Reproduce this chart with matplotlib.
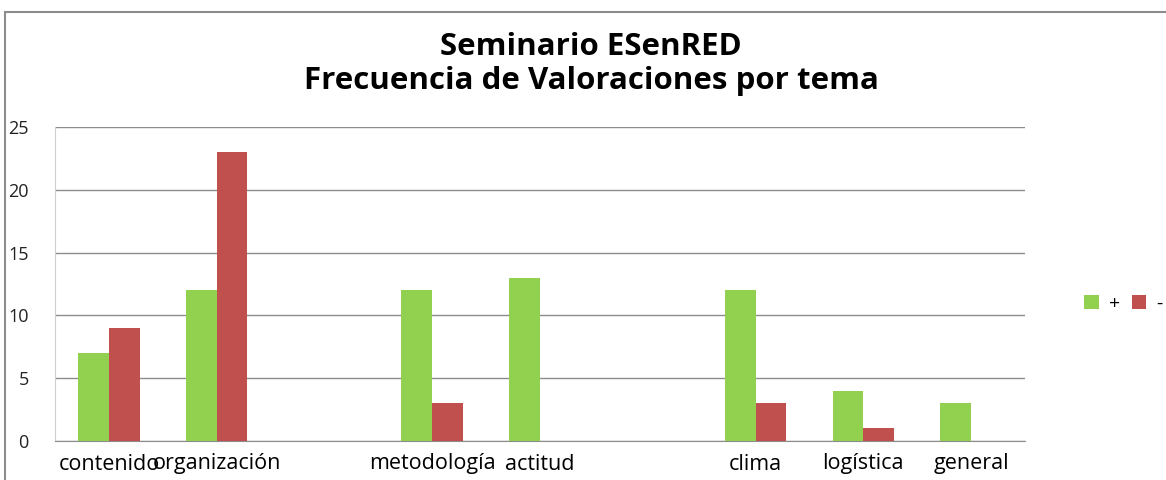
import numpy as np
import matplotlib.pyplot as plt
from matplotlib.patches import Rectangle

categories = ['contenido', 'organización', '', 'metodología', 'actitud', '', 'clima', 'logística', 'general']
pos_vals = [7, 12, 0, 12, 13, 0, 12, 4, 3]
neg_vals = [9, 23, 0, 3, 0, 0, 3, 1, 0]
yticks = [0, 5, 10, 15, 20, 25]

plt.rcParams['font.family'] = ['Open Sans', 'DejaVu Sans']

fig = plt.figure(figsize=(11.66, 4.8), dpi=100)
ax = fig.add_axes([55/1166, 1 - 441/480, 970/1166, 314/480])

x = np.arange(len(categories))
w = 1 / 3.5
ax.bar(x - w/2, pos_vals, w, color='#92D050', label='+', zorder=3)
ax.bar(x + w/2, neg_vals, w, color='#C0504D', label='-', zorder=3)

ax.set_xlim(-0.5, len(categories) - 0.5)
ax.set_ylim(0, 25)
ax.set_yticks(yticks)
ax.set_xticks(x)
ax.set_xticklabels(categories, fontsize=15.5)
ax.tick_params(axis='y', labelsize=13, length=0, pad=19, labelcolor='#222222')
ax.tick_params(axis='x', length=0, pad=9)
ax.yaxis.grid(True, color='#8c8c8c', linewidth=1, zorder=0)
for s in ['top', 'right']:
    ax.spines[s].set_visible(False)
ax.spines['left'].set_color('#d0d0d0')
ax.spines['bottom'].set_color('#8c8c8c')

fig.text(0.507, 0.902, 'Seminario ESenRED', ha='center', va='center', fontsize=22.5, fontweight='bold')
fig.text(0.507, 0.832, 'Frecuencia de Valoraciones por tema', ha='center', va='center', fontsize=22.5, fontweight='bold')

ax.legend(loc='center right', bbox_to_anchor=(1166/1166, 1 - 304/480), bbox_transform=fig.transFigure,
          ncol=2, frameon=False, fontsize=14, handlelength=0.75, handleheight=0.75,
          columnspacing=0.6, handletextpad=0.5, borderpad=0.1, borderaxespad=0.1)

fig.patches.append(Rectangle((5/1166, -0.1), 1.2, (480 - 12)/480 + 0.1, transform=fig.transFigure,
                             fill=False, edgecolor='#8c8c8c', linewidth=1.5))

fig.savefig('out.png', dpi=100)
